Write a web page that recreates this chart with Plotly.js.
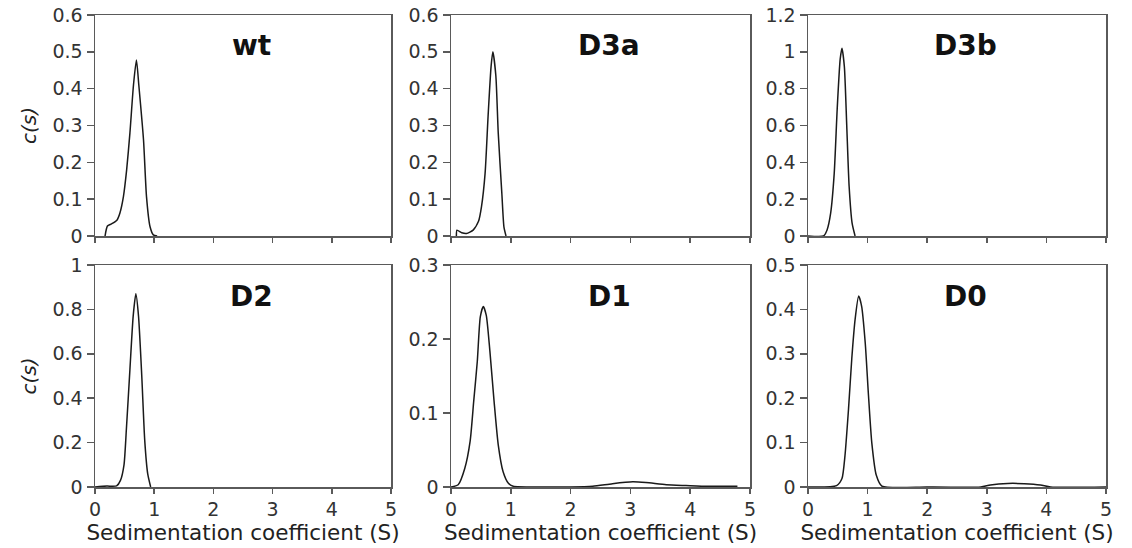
<!DOCTYPE html>
<html>
<head>
<meta charset="utf-8">
<script src="https://cdn.plot.ly/plotly-3.0.1.min.js"></script>
<style>
html,body{margin:0;padding:0;background:#fff;}
#chart{width:1132px;height:548px;}
</style>
</head>
<body>
<div id="chart"></div>
<script>
// ---- data (sedimentation coefficient S vs c(s)) ----
const panelNames = ["wt", "D3a", "D3b", "D2", "D1", "D0"];

const wtS = [0.17, 0.21, 0.28, 0.37, 0.42, 0.48, 0.535, 0.59, 0.65, 0.70, 0.74, 0.82, 0.87, 0.93, 0.985, 1.05];
const wtC = [0, 0.027, 0.033, 0.043, 0.062, 0.107, 0.18, 0.28, 0.41, 0.478, 0.41, 0.26, 0.107, 0.025, 0.003, 0];

const d3aS = [0.09, 0.10, 0.18, 0.26, 0.37, 0.46, 0.51, 0.57, 0.62, 0.67, 0.70, 0.75, 0.79, 0.85, 0.885, 0.92];
const d3aC = [0, 0.016, 0.009, 0.007, 0.016, 0.04, 0.08, 0.17, 0.325, 0.46, 0.50, 0.435, 0.28, 0.116, 0.025, 0];

const d3bS = [0, 0.26, 0.32, 0.38, 0.44, 0.49, 0.54, 0.57, 0.61, 0.65, 0.69, 0.74, 0.79];
const d3bC = [0, 0, 0.033, 0.124, 0.34, 0.69, 0.96, 1.02, 0.92, 0.6, 0.27, 0.07, 0];

const d2S = [0, 0.2, 0.365, 0.43, 0.49, 0.53, 0.59, 0.645, 0.69, 0.735, 0.79, 0.84, 0.89, 0.94];
const d2C = [0, 0.004, 0.005, 0.03, 0.1, 0.26, 0.53, 0.77, 0.87, 0.77, 0.5, 0.21, 0.06, 0];

const d1S = [0, 0.12, 0.23, 0.32, 0.38, 0.44, 0.49, 0.54, 0.59, 0.65, 0.72, 0.79, 0.87, 0.96, 1.04, 1.5, 2.0, 2.37, 2.7, 3.04, 3.26, 3.6, 3.93, 4.3, 4.79];
const d1C = [0, 0.003, 0.025, 0.062, 0.116, 0.17, 0.23, 0.244, 0.232, 0.184, 0.116, 0.057, 0.021, 0.005, 0.001, 0, 0, 0.001, 0.0045, 0.007, 0.006, 0.003, 0.002, 0.001, 0.001];

const d0S = [0, 0.48, 0.57, 0.62, 0.68, 0.735, 0.79, 0.85, 0.90, 0.96, 1.015, 1.07, 1.145, 1.24, 2.0, 2.9, 3.06, 3.35, 3.63, 3.9, 4.07, 5.0];
const d0C = [0, 0.003, 0.019, 0.07, 0.176, 0.29, 0.377, 0.43, 0.407, 0.325, 0.206, 0.1, 0.027, 0.002, 0, 0, 0.0045, 0.008, 0.0075, 0.0045, 0, 0];

const yMax = [0.6, 0.6, 1.2, 1, 0.3, 0.5];
const yStep = [0.1, 0.1, 0.2, 0.2, 0.1, 0.1];
const xTickVals = [0, 1, 2, 3, 4, 5];
const xTitle = "Sedimentation coefficient (S)";
const yTitle = "c(s)";

const seriesS = [wtS, d3aS, d3bS, d2S, d1S, d0S];
const seriesC = [wtC, d3aC, d3bC, d2C, d1C, d0C];

// ---- layout geometry ----
const W = 1132, H = 548;
const colPx = [[95, 391], [451, 750], [808, 1106]];
const rowPx = [[15, 236], [265, 487]];

const FONT = "DejaVu Sans, Arial, sans-serif";
const axisColor = "#5a5a5a";
const traces = [];
const layout = {
  width: W, height: H,
  margin: {l: 0, r: 0, t: 0, b: 0},
  paper_bgcolor: "#fff", plot_bgcolor: "#fff",
  showlegend: false,
  font: {family: FONT, color: "#222"},
  annotations: []
};

for (let i = 0; i < 6; i++) {
  const r = Math.floor(i / 3), c = i % 3;
  const n = i + 1;
  const xa = n === 1 ? "xaxis" : "xaxis" + n;
  const ya = n === 1 ? "yaxis" : "yaxis" + n;
  const xr = n === 1 ? "x" : "x" + n;
  const yr = n === 1 ? "y" : "y" + n;
  traces.push({
    x: seriesS[i], y: seriesC[i], xaxis: xr, yaxis: yr,
    type: "scatter", mode: "lines",
    line: {color: "#1a1a1a", width: 1.5, shape: "spline", smoothing: 0.6},
    hoverinfo: "skip"
  });
  layout[xa] = {
    domain: [colPx[c][0] / W, colPx[c][1] / W],
    anchor: yr,
    range: [0, 5],
    tickvals: xTickVals,
    showticklabels: r === 1,
    ticks: "outside", ticklen: 5, tickwidth: 1.5, tickcolor: axisColor,
    showline: true, linecolor: axisColor, linewidth: 1.5, mirror: true,
    showgrid: false, zeroline: false,
    tickfont: {family: FONT, size: 19, color: "#333"},
    title: r === 1 ? {text: xTitle, font: {family: FONT, size: 21.5, color: "#222"}, standoff: 2} : {text: ""}
  };
  const yt = [];
  for (let v = 0; v <= yMax[i] + 1e-9; v += yStep[i]) yt.push(Math.round(v * 10) / 10);
  layout[ya] = {
    domain: [1 - rowPx[r][1] / H, 1 - rowPx[r][0] / H],
    anchor: xr,
    range: [0, yMax[i]],
    tickvals: yt,
    ticks: "outside", ticklen: 7, tickwidth: 1.5, tickcolor: axisColor,
    showline: true, linecolor: axisColor, linewidth: 1.5, mirror: true,
    showgrid: false, zeroline: false,
    tickfont: {family: FONT, size: 19, color: "#333"},
    title: c === 0 ? {text: "<i>" + yTitle + "</i>", font: {family: FONT, size: 20, color: "#222"}, standoff: 10} : {text: ""}
  };
  layout.annotations.push({
    text: "<b>" + panelNames[i] + "</b>",
    xref: xr + " domain", yref: yr + " domain",
    x: 0.53, y: 0.86, xanchor: "center", yanchor: "middle",
    showarrow: false,
    font: {family: FONT, size: 28, color: "#111"}
  });
}

Plotly.newPlot("chart", traces, layout, {displayModeBar: false, staticPlot: true});
</script>
</body>
</html>
